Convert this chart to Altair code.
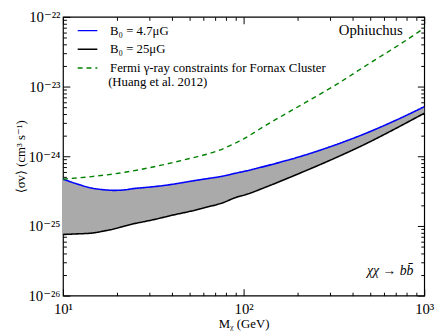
import altair as alt
import pandas as pd

# ---------------- data ----------------
mass = [10, 12, 14.4, 17, 19.3, 22, 24.8, 28, 33, 40, 50, 62, 77, 90, 103,
        137, 208, 316, 480, 713, 1000]
sv_b47 = [4.7e-25, 4.0e-25, 3.5e-25, 3.3e-25, 3.24e-25, 3.3e-25, 3.45e-25,
          3.55e-25, 3.7e-25, 3.95e-25, 4.35e-25, 4.75e-25, 5.2e-25, 5.7e-25,
          6.15e-25, 7.4e-25, 1.0e-24, 1.43e-24, 2.16e-24, 3.38e-24, 5.14e-24]
sv_b25 = [7.55e-26, 7.7e-26, 7.9e-26, 8.5e-26, 9.1e-26, 1.0e-25, 1.08e-25,
          1.15e-25, 1.26e-25, 1.42e-25, 1.61e-25, 1.85e-25, 2.16e-25, 2.55e-25,
          2.82e-25, 3.73e-25, 5.81e-25, 9.26e-25, 1.53e-24, 2.59e-24, 4.14e-24]
mass_fermi = [10, 14.4, 22, 33.2, 50.2, 70.5, 94, 137, 209, 316, 521, 713, 1000]
sv_fermi = [4.7e-25, 5.11e-25, 5.89e-25, 7.23e-25, 9.28e-25, 1.175e-24,
            1.63e-24, 2.92e-24, 5.48e-24, 1.017e-23, 2.32e-23, 3.85e-23, 6.89e-23]

series_names = ["B\u2080 = 4.7\u03bcG", "B\u2080 = 25\u03bcG",
                "Fermi \u03b3-ray constraints for Fornax Cluster"]
fermi_ref = "(Huang et al. 2012)"
series_colors = ["#0000ff", "#000000", "#008000"]
series_dash = [[1, 0], [1, 0], [5, 4]]

x_major = [10, 100, 1000]
x_tick_labels = ["10\u00b9", "10\u00b2", "10\u00b3"]
y_major = [1e-26, 1e-25, 1e-24, 1e-23, 1e-22]
y_tick_labels = ["10\u207b\u00b2\u2076", "10\u207b\u00b2\u2075", "10\u207b\u00b2\u2074",
                 "10\u207b\u00b2\u00b3", "10\u207b\u00b2\u00b2"]
x_minor = [m * 10 ** e for e in (1, 2) for m in range(2, 10)]
y_minor = [m * 10.0 ** e for e in range(-26, -22) for m in range(2, 10)]

annot_text = ["Ophiuchus", "\u03c7\u03c7 \u2192 bb\u0304"]

# ---------------- tables ----------------
wide = pd.DataFrame({"M": mass, "b47": sv_b47, "b25": sv_b25})
long = pd.concat([
    pd.DataFrame({"M": mass, "sv": sv_b47, "series": series_names[0]}),
    pd.DataFrame({"M": mass, "sv": sv_b25, "series": series_names[1]}),
    pd.DataFrame({"M": mass_fermi, "sv": sv_fermi, "series": series_names[2]}),
], ignore_index=True)

FONT = "Liberation Serif, DejaVu Serif, serif"
MAJ, MIN = 7, 3.5

xs = alt.Scale(type="log", domain=[10, 1000], nice=False)
ys = alt.Scale(type="log", domain=[1e-26, 1e-22], nice=False)


def tick_expr(values, labels, ratio):
    expr = "''"
    for v, l in reversed(list(zip(values, labels))):
        expr = f"datum.value < {v * ratio} ? '{l}' : ({expr})"
    return expr


def axis(orient, values, size, labels=False, **kw):
    return alt.Axis(orient=orient, values=values, tickSize=size, offset=-size,
                    domain=False, grid=False, labels=labels, tickColor="black",
                    tickWidth=1, labelOverlap=False, labelFlush=False, **kw)


x_bottom = axis("bottom", x_major, MAJ, labels=True, title="M\u1d6a (GeV)",
                labelExpr=tick_expr(x_major, x_tick_labels, 3), labelPadding=6,
                titlePadding=1)
y_left = axis("left", y_major, MAJ, labels=True,
              title="\u27e8\u03c3v\u27e9 (cm\u00b3 s\u207b\u00b9)",
              labelExpr=tick_expr(y_major, y_tick_labels, 3), labelPadding=3,
              titlePadding=1)

color_scale = alt.Scale(domain=series_names, range=series_colors)
dash_scale = alt.Scale(domain=series_names, range=series_dash)
legend = alt.Legend(
    title=None, orient="none", legendX=14, legendY=3, symbolType="stroke",
    symbolSize=400, symbolStrokeWidth=1.5, labelFont=FONT, labelFontSize=13,
    labelOffset=12, rowPadding=1, labelLimit=400, padding=0,
    labelColor="black",
)

area = alt.Chart(wide).mark_area(color="#aaaaaa", interpolate="monotone").encode(
    x=alt.X("M:Q", scale=xs, axis=x_bottom),
    y=alt.Y("b47:Q", scale=ys, axis=y_left),
    y2="b25:Q",
)


def line_layer(name, width, xaxis, yaxis):
    return alt.Chart(long).transform_filter(alt.datum.series == name).mark_line(
        interpolate="monotone", strokeWidth=width
    ).encode(
        x=alt.X("M:Q", scale=xs, axis=xaxis),
        y=alt.Y("sv:Q", scale=ys, axis=yaxis),
        color=alt.Color("series:N", scale=color_scale, legend=legend),
        strokeDash=alt.StrokeDash("series:N", scale=dash_scale, legend=legend),
    )


l_blue = line_layer(series_names[0], 1.6, axis("bottom", x_minor, MIN, title=None),
                    axis("left", y_minor, MIN, title=None))
l_black = line_layer(series_names[1], 1.6, axis("top", x_major, MAJ, title=None),
                     axis("right", y_major, MAJ, title=None))
l_green = line_layer(series_names[2], 1.4, axis("top", x_minor, MIN, title=None),
                     axis("right", y_minor, MIN, title=None))

t_oph = alt.Chart(pd.DataFrame({"t": [annot_text[0]]})).mark_text(
    font=FONT, fontSize=15, align="right", baseline="middle", color="black"
).encode(text="t:N", x=alt.value(346), y=alt.value(13.5))
t_ref = alt.Chart(pd.DataFrame({"t": [fermi_ref]})).mark_text(
    font=FONT, fontSize=13, align="left", baseline="middle", color="black"
).encode(text="t:N", x=alt.value(46), y=alt.value(66.5))
t_chan = alt.Chart(pd.DataFrame({"t": [annot_text[1]]})).mark_text(
    font=FONT, fontSize=14, fontStyle="italic", align="right", baseline="middle",
    color="black"
).encode(text="t:N", x=alt.value(357), y=alt.value(258.5))

chart = alt.layer(area, l_blue, l_black, l_green, t_oph, t_ref, t_chan).resolve_axis(
    x="independent", y="independent"
).properties(
    width=368, height=284,
    autosize=alt.AutoSizeParams(type="none"),
    padding={"left": 56, "top": 6, "right": 12, "bottom": 35},
).configure_view(
    stroke="black", strokeWidth=1.2
).configure_axis(
    labelFont=FONT, labelFontSize=15, titleFont=FONT, titleFontSize=13,
    titleFontWeight="normal", labelColor="black", titleColor="black",
)

chart.save("out.html", embed_options={"renderer": "svg", "actions": False})
